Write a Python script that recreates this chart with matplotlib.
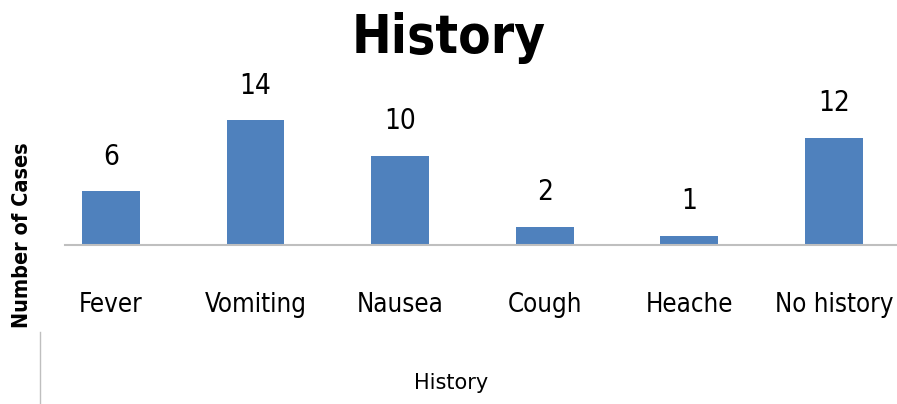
import matplotlib.pyplot as plt
from matplotlib.lines import Line2D

categories = ['Fever', 'Vomiting', 'Nausea', 'Cough', 'Heache', 'No history']
cases = [6, 14, 10, 2, 1, 12]

narrow = ['DejaVu Sans']

fig = plt.figure(figsize=(8.97, 4.04), dpi=100)
ax = fig.add_axes([65 / 897, (404 - 244.5) / 404, (897 - 65) / 897, (244.5 - 80) / 404])

x = list(range(len(categories)))
bars = ax.bar(x, cases, width=0.40, color='#4F81BD')
ax.set_xlim(-0.318, 5.436)
ax.set_ylim(0, 18.5)

for xi, v in zip(x, cases):
    ax.text(xi, v + 2.3, str(v), ha='center', va='bottom', fontsize=20,
            family=narrow, stretch='condensed')

for s in ['top', 'right', 'left']:
    ax.spines[s].set_visible(False)
ax.spines['bottom'].set_color('#BFBFBF')
ax.spines['bottom'].set_linewidth(1.5)
ax.set_yticks([])
ax.set_xticks(x)
ax.set_xticklabels(categories, fontsize=18.5, family=narrow, stretch='condensed')
ax.tick_params(axis='x', length=0, pad=34)

fig.text(0.5, 0.97, 'History', ha='center', va='top', fontsize=38, fontweight='bold',
         family=narrow, stretch='condensed')
fig.text(22 / 897, 1 - 235 / 404, 'Number of Cases', rotation=90, ha='center', va='center',
         fontsize=15.5, fontweight='bold', family=narrow, stretch='condensed')
fig.text(451 / 897, 1 - 383 / 404, 'History', ha='center', va='center', fontsize=15, family=narrow)

fig.add_artist(Line2D([40 / 897, 40 / 897], [0, 1 - 332 / 404], color='#BFBFBF', lw=1))

plt.savefig('out.png', dpi=100)
